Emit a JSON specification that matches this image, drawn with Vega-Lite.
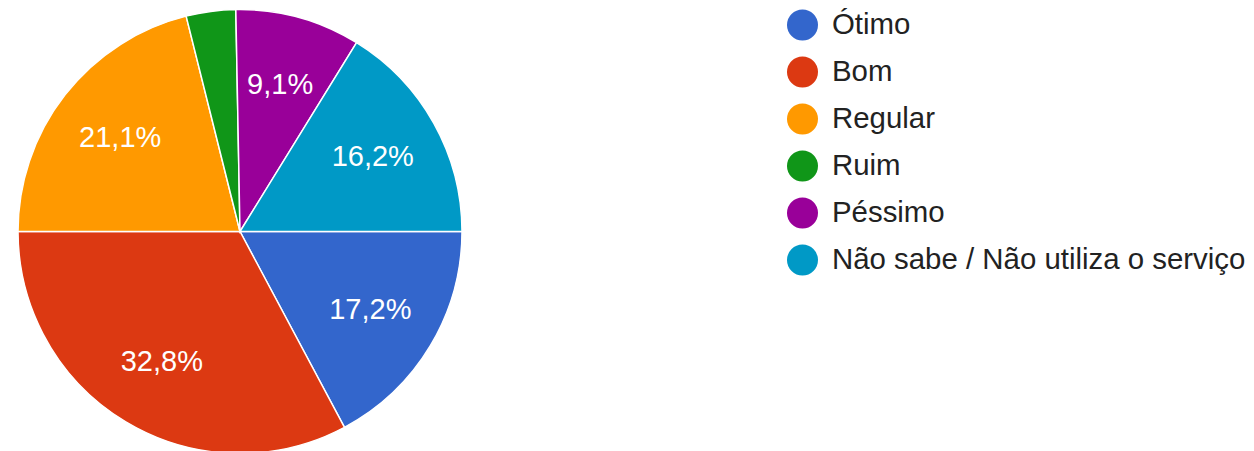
{
  "$schema": "https://vega.github.io/schema/vega-lite/v6.json",
  "width": 480,
  "height": 439,
  "padding": {"top": 12, "left": 0, "right": 774, "bottom": 0},
  "autosize": {"type": "none"},
  "background": "white",
  "config": {
    "view": {"stroke": null},
    "locale": {"number": {"decimal": ",", "thousands": ".", "grouping": [3], "currency": ["R$", ""]}}
  },
  "data": {
    "values": [
      {"resposta": "Ótimo", "valor": 0.172, "ordem": 1},
      {"resposta": "Bom", "valor": 0.328, "ordem": 2},
      {"resposta": "Regular", "valor": 0.211, "ordem": 3},
      {"resposta": "Ruim", "valor": 0.036, "ordem": 4},
      {"resposta": "Péssimo", "valor": 0.091, "ordem": 5},
      {"resposta": "Não sabe / Não utiliza o serviço", "valor": 0.162, "ordem": 6}
    ]
  },
  "encoding": {
    "theta": {"field": "valor", "type": "quantitative", "stack": true, "scale": {"range": [1.5707963, 7.8539816]}},
    "order": {"field": "ordem", "type": "quantitative"}
  },
  "layer": [
    {
      "mark": {"type": "arc", "outerRadius": 222, "stroke": "white", "strokeWidth": 1.5},
      "encoding": {
        "color": {
          "field": "resposta",
          "type": "nominal",
          "scale": {
            "domain": ["Ótimo", "Bom", "Regular", "Ruim", "Péssimo", "Não sabe / Não utiliza o serviço"],
            "range": ["#3366cc", "#dc3912", "#ff9900", "#109618", "#990099", "#0099c6"]
          },
          "legend": {
            "orient": "none",
            "legendX": 787,
            "legendY": -2.5,
            "title": null,
            "symbolType": "circle",
            "symbolSize": 961,
            "symbolStrokeWidth": 0,
            "symbolOpacity": 1,
            "labelFontSize": 29.4,
            "labelFont": "Liberation Sans",
            "labelColor": "#222222",
            "labelOffset": 14,
            "rowPadding": 16,
            "labelLimit": 600,
            "padding": 0
          }
        }
      }
    },
    {
      "mark": {"type": "text", "radius": 152, "fontSize": 29, "font": "Liberation Sans", "fill": "white", "baseline": "middle", "align": "center"},
      "encoding": {
        "text": {"field": "valor", "type": "quantitative", "format": ".1%"},
        "opacity": {"condition": {"test": "datum.valor < 0.05", "value": 0}, "value": 1}
      }
    }
  ]
}
